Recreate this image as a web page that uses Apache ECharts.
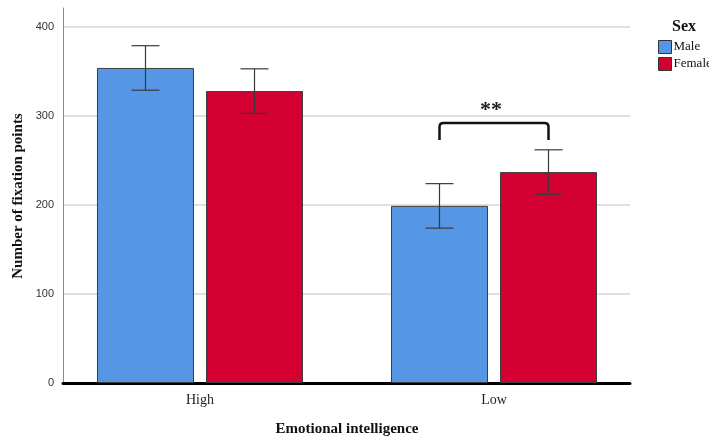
<!DOCTYPE html>
<html>
<head>
<meta charset="utf-8">
<script src="https://cdn.jsdelivr.net/npm/echarts@6/dist/echarts.min.js"></script>
<style>
  html, body { margin: 0; padding: 0; background: #fff; }
  #chart { width: 709px; height: 439px; }
</style>
</head>
<body>
<div id="chart"></div>
<script>
// Emotional intelligence groups
const categories = ['High', 'Low'];
// Mean fixation counts by sex
const maleMeans = [354, 199];
const femaleMeans = [328, 237];
// Error bar bounds
const maleLower = [329, 174];
const maleUpper = [379, 224];
const femaleLower = [303, 212];
const femaleUpper = [353, 262];
// Y-axis ticks
const yTicks = [0, 100, 200, 300, 400];

const BLUE = '#5596e5';
const RED = '#d50032';
const BAR_W = 97;
const BAR_OFFSET = 54.5; // px from category centre to each bar centre
const SERIF = '"Liberation Serif", serif';

const chart = echarts.init(document.getElementById('chart'));

function errorBars(lower, upper, side) {
  return {
    type: 'custom',
    xAxisIndex: 0,
    yAxisIndex: 0,
    z: 5,
    data: categories.map((c, i) => [i, lower[i], upper[i]]),
    renderItem(params, api) {
      const lo = api.coord([api.value(0), api.value(1)]);
      const hi = api.coord([api.value(0), api.value(2)]);
      const x = lo[0] + side * BAR_OFFSET;
      const cap = 14;
      const style = { stroke: '#3a3a3a', lineWidth: 1.2, fill: null };
      return {
        type: 'group',
        children: [
          { type: 'line', shape: { x1: x, y1: lo[1], x2: x, y2: hi[1] }, style },
          { type: 'line', shape: { x1: x - cap, y1: lo[1], x2: x + cap, y2: lo[1] }, style },
          { type: 'line', shape: { x1: x - cap, y1: hi[1], x2: x + cap, y2: hi[1] }, style }
        ]
      };
    }
  };
}

// Significance bracket over the Low group
const bracket = {
  type: 'custom',
  xAxisIndex: 0,
  yAxisIndex: 0,
  z: 6,
  data: [[1, 273, 292, 306]],
  renderItem(params, api) {
    const base = api.coord([api.value(0), api.value(1)]);
    const top = api.coord([api.value(0), api.value(2)]);
    const txt = api.coord([api.value(0), api.value(3)]);
    const x1 = base[0] - BAR_OFFSET, x2 = base[0] + BAR_OFFSET;
    const r = 4;
    const path = `M${x1} ${base[1]} L${x1} ${top[1] + r} Q${x1} ${top[1]} ${x1 + r} ${top[1]} ` +
      `L${x2 - r} ${top[1]} Q${x2} ${top[1]} ${x2} ${top[1] + r} L${x2} ${base[1]}`;
    return {
      type: 'group',
      children: [
        { type: 'path', shape: { pathData: path }, style: { stroke: '#111', lineWidth: 2.5, fill: null } },
        { type: 'text', style: { x: base[0] - 3, y: txt[1], text: '**', fill: '#222',
            font: 'bold 22px "Liberation Serif", serif', align: 'center', verticalAlign: 'middle' } }
      ]
    };
  }
};

chart.setOption({
  animation: false,
  backgroundColor: '#fff',
  grid: [
    { left: 53, right: 68, top: 27, bottom: 56, outerBoundsMode: 'none' },   // bars
    { left: 63, right: 79, top: 27, bottom: 56, outerBoundsMode: 'none' },   // ticks, gridlines, baseline
    { left: 63, right: 79, top: 8, bottom: 56, outerBoundsMode: 'none' }     // y-axis line
  ],
  xAxis: [
    {
      type: 'category', gridIndex: 0, data: categories,
      axisLine: { show: false }, axisTick: { show: false },
      axisLabel: { color: '#222', fontSize: 14, margin: 10, fontFamily: SERIF },
      name: 'Emotional intelligence', nameLocation: 'middle', nameGap: 39,
      nameTextStyle: { color: '#111', fontSize: 15, fontWeight: 'bold', fontFamily: SERIF }
    },
    {
      type: 'value', gridIndex: 1, min: 0, max: 1,
      axisLine: { show: true, lineStyle: { color: '#000', width: 3 } },
      axisTick: { show: false }, axisLabel: { show: false }, splitLine: { show: false }
    },
    {
      type: 'value', gridIndex: 2, min: 0, max: 1, show: false
    }
  ],
  yAxis: [
    { type: 'value', gridIndex: 0, min: 0, max: 400, show: false },
    {
      type: 'value', gridIndex: 1, min: 0, max: 400, interval: 100,
      axisLine: { show: false }, axisTick: { show: false },
      axisLabel: { color: '#333', fontSize: 11, margin: 9, fontFamily: '"Liberation Sans", Arial, sans-serif',
        formatter: v => (yTicks.includes(v) ? String(v) : '') },
      splitLine: { show: true, lineStyle: { color: '#d6d6d6', width: 1.5 } }
    },
    {
      type: 'value', gridIndex: 2, min: 0, max: 421,
      axisLine: { show: true, lineStyle: { color: '#8a8a8a', width: 1 } },
      axisTick: { show: false }, axisLabel: { show: false }, splitLine: { show: false }
    }
  ],
  graphic: [
    {
      type: 'text', x: 18, y: 196, rotation: Math.PI / 2,
      style: { text: 'Number of fixation points', fill: '#111', font: 'bold 15px "Liberation Serif", serif',
        align: 'center', verticalAlign: 'middle' }
    },
    {
      type: 'text', x: 672, y: 27,
      style: { text: 'Sex', fill: '#111', font: 'bold 16px "Liberation Serif", serif',
        align: 'left', verticalAlign: 'middle' }
    }
  ],
  legend: {
    orient: 'vertical', left: 658, top: 40, padding: 0, itemWidth: 13, itemHeight: 13, itemGap: 3,
    icon: 'rect',
    textStyle: { fontSize: 13, color: '#111', padding: [0, 0, 0, -3], fontFamily: SERIF },
    itemStyle: { borderColor: '#333', borderWidth: 1 },
    data: ['Male', 'Female']
  },
  series: [
    {
      name: 'Male', type: 'bar', xAxisIndex: 0, yAxisIndex: 0, data: maleMeans,
      barWidth: BAR_W, barGap: '12.4%',
      itemStyle: { color: BLUE, borderColor: '#3c3c3c', borderWidth: 1 }
    },
    {
      name: 'Female', type: 'bar', xAxisIndex: 0, yAxisIndex: 0, data: femaleMeans,
      barWidth: BAR_W, barGap: '12.4%',
      itemStyle: { color: RED, borderColor: '#3c3c3c', borderWidth: 1 }
    },
    errorBars(maleLower, maleUpper, -1),
    errorBars(femaleLower, femaleUpper, 1),
    bracket
  ]
});
</script>
</body>
</html>
